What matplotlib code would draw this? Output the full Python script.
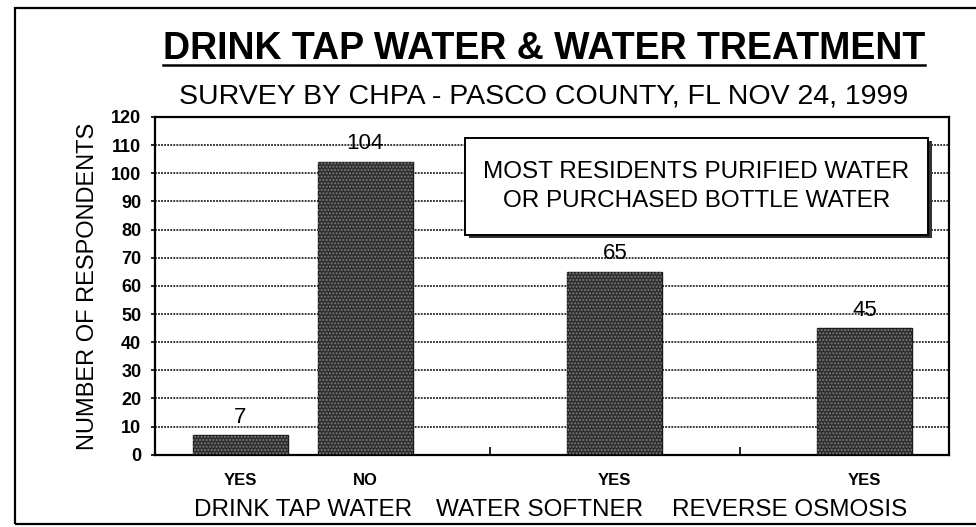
import matplotlib.pyplot as plt
from matplotlib.patches import Rectangle
from matplotlib.lines import Line2D
import matplotlib.transforms as mtransforms

# Data
groups = ['DRINK TAP WATER', 'WATER SOFTNER', 'REVERSE OSMOSIS']
answers = ['YES', 'NO', 'YES', 'YES']
counts = [7, 104, 65, 45]
y_ticks = list(range(0, 130, 10))

title = 'DRINK TAP WATER & WATER TREATMENT'
subtitle = 'SURVEY BY CHPA - PASCO COUNTY, FL NOV 24, 1999'
note = 'MOST RESIDENTS PURIFIED WATER\nOR PURCHASED BOTTLE WATER'

# layout
bar_x = [1.0, 1.5, 2.5, 3.5]
group_x = [1.25, 2.2, 3.2]
sep_x = [2.0, 3.0]
bar_w = 0.38

narrow = ['Liberation Sans Narrow', 'Liberation Sans', 'DejaVu Sans']
plain = ['Liberation Sans', 'DejaVu Sans']

fig = plt.figure(figsize=(9.76, 5.27), dpi=100)
ax = fig.add_axes([0.159, 0.137, 0.813, 0.641])

for y in y_ticks[1:-1]:
    ax.axhline(y, color='black', lw=1.1, ls=(0, (1.2, 0.8)), zorder=1)

ax.bar(bar_x, counts, width=bar_w, color='#2e2e2e', edgecolor='#1a1a1a', lw=1, zorder=2)
ax.bar(bar_x, counts, width=bar_w, fill=False, hatch='.....', edgecolor='#7a7a7a', lw=0, zorder=3)

for x, v in zip(bar_x, counts):
    ax.annotate(str(v), (x, v), xytext=(0, 13), textcoords='offset points',
                ha='center', va='center', fontsize=16, family=plain, zorder=4)

ax.set_xlim(0.66, 3.836)
ax.set_ylim(0, 120)
ax.set_yticks(y_ticks)
ax.set_yticklabels([str(t) for t in y_ticks], family=narrow, fontweight='bold', fontsize=13)
ax.tick_params(axis='y', length=3, width=1.2, pad=7)

ax.set_xticks(bar_x)
ax.set_xticklabels(answers, family=plain, fontweight='bold', fontsize=12)
ax.tick_params(axis='x', which='major', length=0, pad=13)
ax.set_xticks(sep_x, minor=True)
ax.tick_params(axis='x', which='minor', direction='in', length=6, width=1.2)

for s in ax.spines.values():
    s.set_linewidth(1.6)

ax.set_ylabel('NUMBER OF RESPONDENTS', family=plain, fontsize=17, labelpad=9)

trans = mtransforms.blended_transform_factory(ax.transData, ax.transAxes)
for x, g in zip(group_x, groups):
    ax.text(x, -0.163, g, transform=trans, ha='center', va='center',
            fontsize=17.5, family=plain)

# annotation box with a drop shadow
box_x0, box_y0, box_w, box_h = 0.39, 0.651, 0.584, 0.287
ax.add_patch(Rectangle((box_x0 + 0.005, box_y0 - 0.009), box_w, box_h,
                       transform=ax.transAxes, facecolor='#333333', edgecolor='none', zorder=5))
ax.add_patch(Rectangle((box_x0, box_y0), box_w, box_h, transform=ax.transAxes,
                       facecolor='white', edgecolor='black', lw=1.4, zorder=6))
ax.text(box_x0 + box_w / 2, box_y0 + box_h / 2, note, transform=ax.transAxes,
        ha='center', va='center', fontsize=17.5, family=plain, linespacing=1.45, zorder=7)

# titles
t = fig.text(0.557, 0.907, title, ha='center', va='center', fontsize=27,
             fontweight='bold', family=plain)
fig.text(0.557, 0.816, subtitle, ha='center', va='center', fontsize=20.5, family=narrow)

fig.canvas.draw()
bb = t.get_window_extent().transformed(fig.transFigure.inverted())
fig.add_artist(Line2D([bb.x0, bb.x1], [bb.y0 + 0.004, bb.y0 + 0.004],
                      transform=fig.transFigure, color='black', lw=1.8))

# scanned page frame
fig.add_artist(Rectangle((0.015, 0.005), 1.2, 0.98, transform=fig.transFigure,
                         fill=False, edgecolor='black', lw=1.6))

fig.savefig('out.png', dpi=100)
